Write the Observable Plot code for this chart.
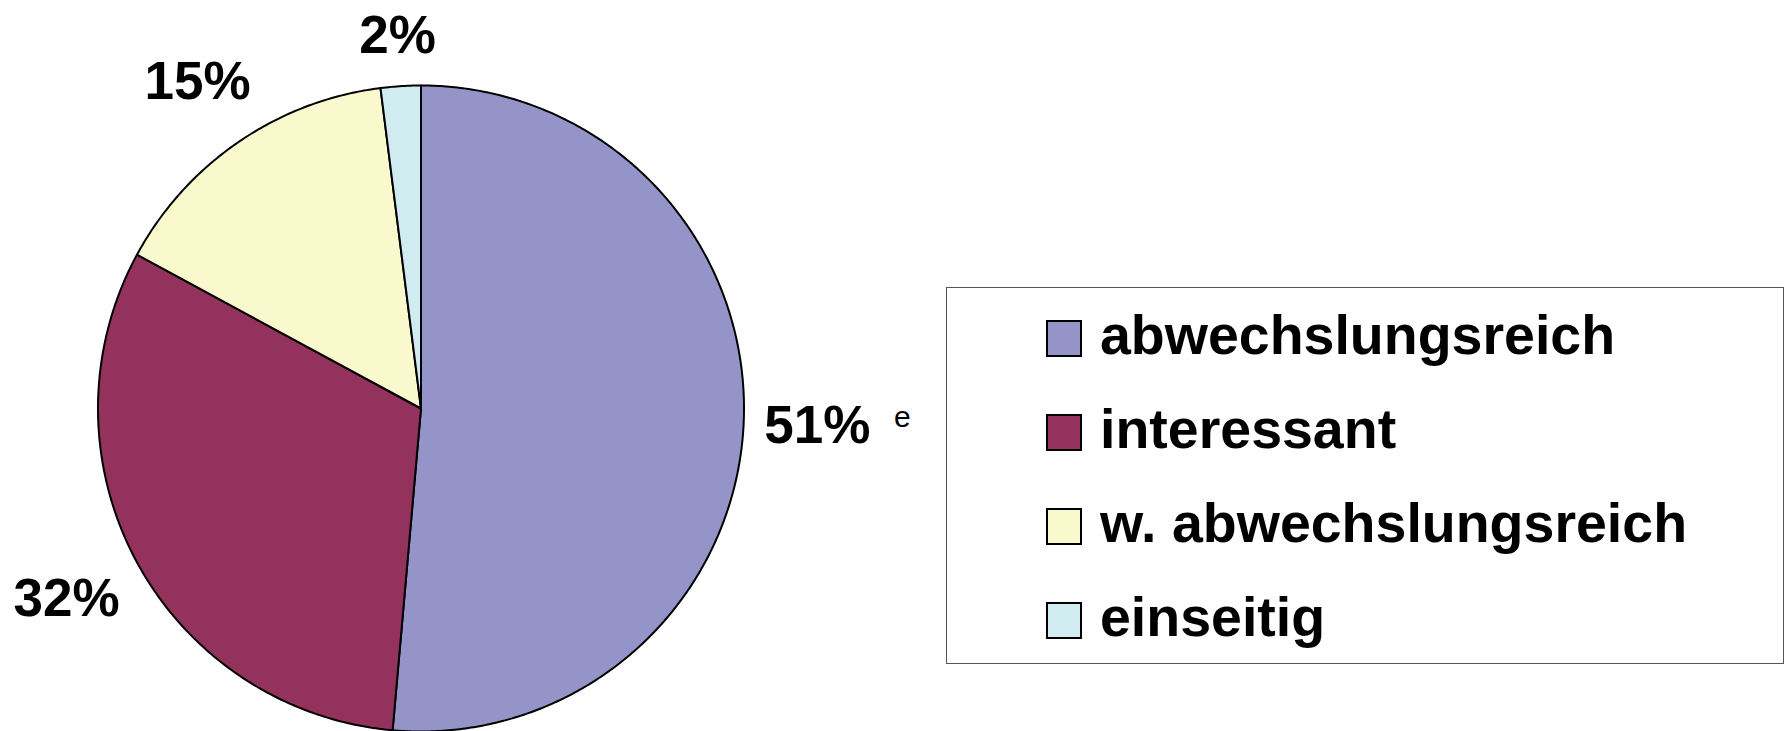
<!DOCTYPE html>
<html>
<head>
<meta charset="utf-8">
<script src="https://cdn.jsdelivr.net/npm/d3@7"></script>
<script src="https://cdn.jsdelivr.net/npm/@observablehq/plot@0.6"></script>
<style>
  html, body { margin: 0; padding: 0; background: #fff; }
  #wrap { position: relative; width: 1789px; height: 731px; overflow: hidden; }
  #legend {
    position: absolute; left: 946px; top: 287px; width: 838px; height: 377px;
    border: 1px solid #555; box-sizing: border-box; background: #fff;
    padding-top: 3px;
    font-family: "Liberation Sans", Arial, sans-serif; font-weight: bold; font-size: 55.5px; color: #000;
  }
  .row { height: 94px; display: flex; align-items: center; padding-left: 99px; }
  .sw { width: 36px; height: 37px; box-sizing: border-box; border: 2px solid #000; margin-right: 18px; flex: none; }
  .lab { line-height: 1; position: relative; top: -2px; white-space: nowrap; }
</style>
</head>
<body>
<div id="wrap"></div>
<script>
const categories = ["abwechslungsreich", "interessant", "w. abwechslungsreich", "einseitig"];
const values = [51.4, 31.5, 15.1, 2.0];
const labels = ["51%", "32%", "15%", "2%"];
const colors = ["#9494C8", "#94325E", "#FAF8CD", "#D0ECF0"];
const strayText = "e";

const cx = 420.5, cy = 408, R = 323;
const labelFont = 'bold 53px "Liberation Sans", Arial, sans-serif';

const data = categories.map((c, i) => ({cat: c, value: values[i], label: labels[i]}));
const arcs = d3.pie().sort(null).value(d => d.value)(data);

// slice polygons in unit-circle data coordinates (y up), from the pie layout
const slicePts = [];
for (const a of arcs) {
  slicePts.push({cat: a.data.cat, x: 0, y: 0});
  const n = Math.max(2, Math.ceil((a.endAngle - a.startAngle) / (Math.PI / 360)));
  for (let k = 0; k <= n; ++k) {
    const t = a.startAngle + (a.endAngle - a.startAngle) * k / n;
    slicePts.push({cat: a.data.cat, x: Math.sin(t), y: Math.cos(t)});
  }
}

// label positions outside the pie, based on mid angle and text size
const ctx = document.createElement("canvas").getContext("2d");
ctx.font = labelFont;
const gap = 19.5, halfH = 28;
const labelRows = arcs.map(a => {
  const m = (a.startAngle + a.endAngle) / 2;
  const s = Math.sin(m), c = Math.cos(m);
  const halfW = ctx.measureText(a.data.label).width / 2;
  const dist = R + gap + Math.abs(s) * halfW + Math.abs(c) * halfH;
  return {label: a.data.label, x: s * dist / R, y: c * dist / R};
});

const chart = Plot.plot({
  width: 1789,
  height: 731,
  margin: 0,
  style: {background: "#fff", overflow: "visible"},
  x: {domain: [-1, 1], range: [cx - R, cx + R], axis: null},
  y: {domain: [-1, 1], range: [cy + R, cy - R], axis: null},
  color: {domain: categories, range: colors},
  marks: [
    Plot.line(slicePts, {x: "x", y: "y", z: "cat", fill: "cat", stroke: "#000", strokeWidth: 2,
      strokeLinejoin: "round", curve: "linear-closed"}),
    Plot.text(labelRows, {x: "x", y: "y", text: "label", fontSize: 53, fontWeight: "bold",
      fontFamily: '"Liberation Sans", Arial, sans-serif', fill: "#000", lineAnchor: "middle"}),
    Plot.text(labelRows.slice(0, 1), {x: "x", y: "y", text: () => strayText, dx: 85, dy: -9,
      fontSize: 30, fontFamily: '"Liberation Sans", Arial, sans-serif', fill: "#000", lineAnchor: "middle"})
  ]
});

const wrap = document.getElementById("wrap");
wrap.appendChild(chart);

const legend = document.createElement("div");
legend.id = "legend";
categories.forEach((c, i) => {
  const row = document.createElement("div");
  row.className = "row";
  const sw = document.createElement("div");
  sw.className = "sw";
  sw.style.background = colors[i];
  const lab = document.createElement("span");
  lab.className = "lab";
  lab.textContent = c;
  row.appendChild(sw);
  row.appendChild(lab);
  legend.appendChild(row);
});
wrap.appendChild(legend);
</script>
</body>
</html>
